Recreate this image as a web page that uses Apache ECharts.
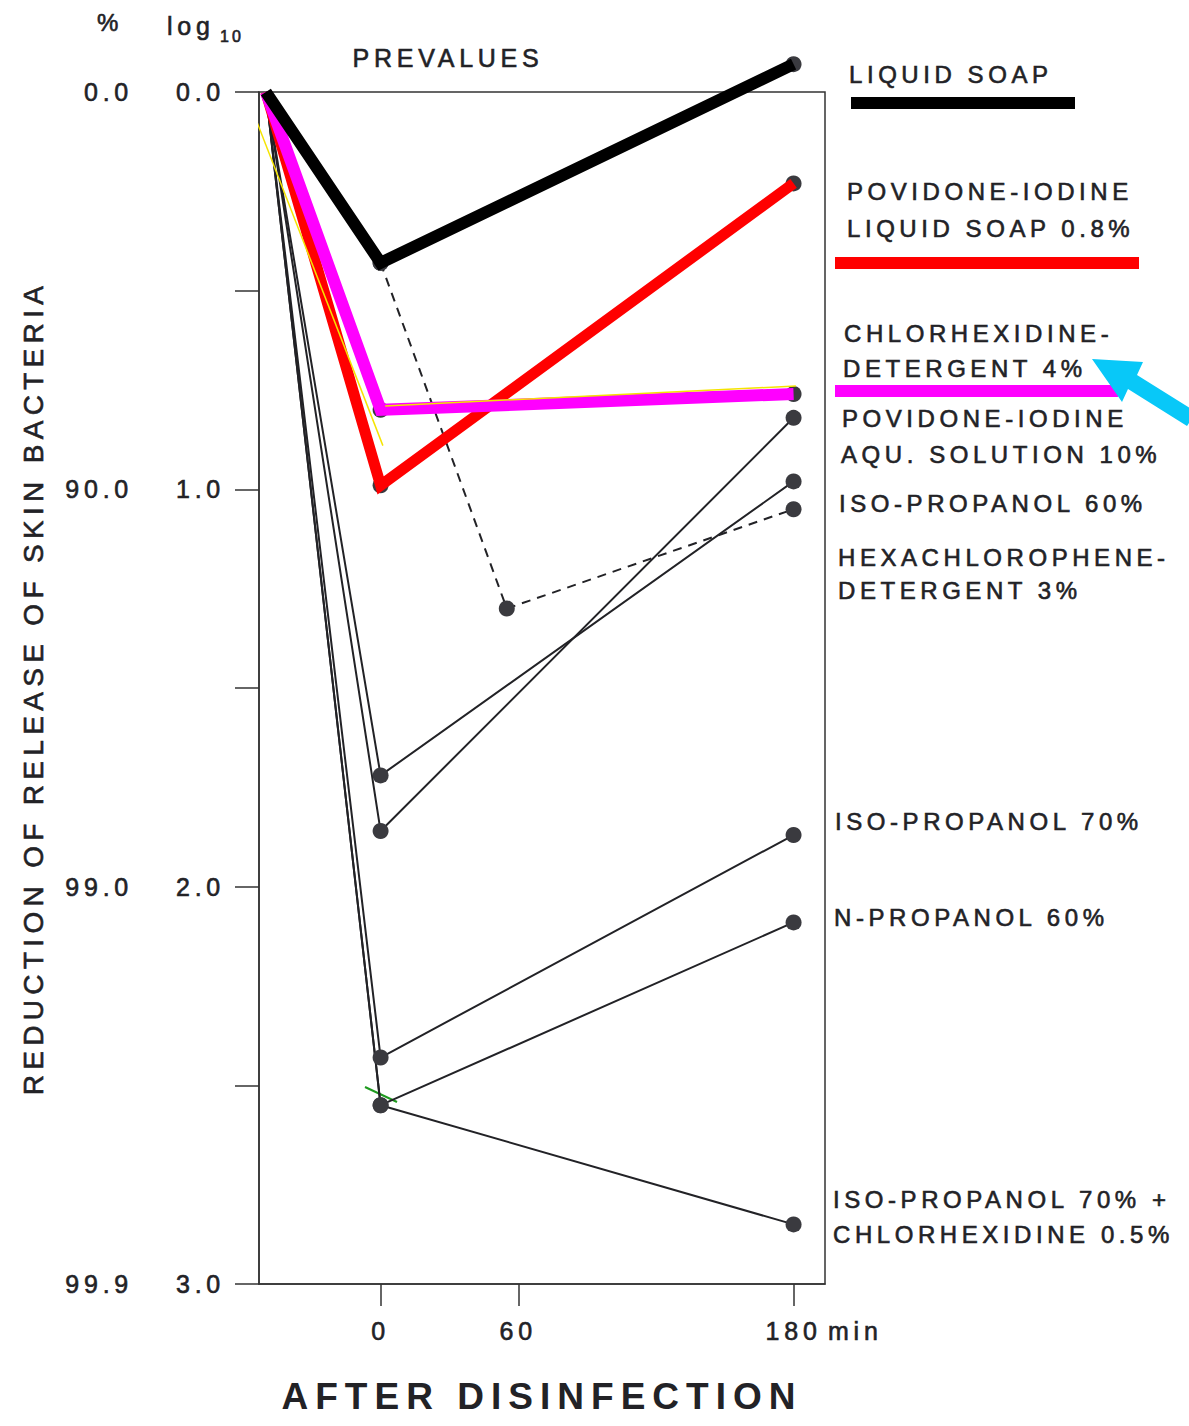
<!DOCTYPE html>
<html>
<head>
<meta charset="utf-8">
<script src="https://cdn.jsdelivr.net/npm/echarts@6/dist/echarts.min.js"></script>
<style>
  html, body { margin: 0; padding: 0; background: #ffffff; }
  #chart { width: 1189px; height: 1426px; }
  /* the original lettering is widely spaced */
  #chart text { letter-spacing: 0.19em; }
</style>
</head>
<body>
<div id="chart"></div>
<script>
// x: minutes after disinfection, the prevalue sits left of 0
const prevalueX = -50;
const times = [prevalueX, 0, 180];
const hexaTimes = [0, 55, 180];

// log10 reduction of release of skin bacteria
const liquidSoap = [0, 0.43, -0.07];
const pviLiquidSoap = [0, 0.99, 0.23];
const chxDetergent = [0, 0.80, 0.76];
const pviAquSolution = [0, 1.86, 0.82];
const isoPropanol60 = [0, 1.72, 0.98];
const hexaDetergent = [0.43, 1.30, 1.05];
const isoPropanol70 = [0, 2.43, 1.87];
const nPropanol60 = [0, 2.55, 2.09];
const isoPropanol70Chx = [0, 2.55, 2.85];

// yellow marker strokes drawn over the scan
const yellowA = [[-59, 0], [1, 0.89]];
const yellowB = [[2, 0.79], [181, 0.74]];

// axis ticks
const xTicks = [0, 60, 180];
const logTicks = [0, 1, 2, 3];
const pctLabels = ['0.0', '90.0', '99.0', '99.9'];

// labels at the right hand side
const seriesLabels = [
  'LIQUID SOAP',
  'POVIDONE-IODINE',
  'LIQUID SOAP 0.8%',
  'CHLORHEXIDINE-',
  'DETERGENT 4%',
  'POVIDONE-IODINE',
  'AQU. SOLUTION 10%',
  'ISO-PROPANOL 60%',
  'HEXACHLOROPHENE-',
  'DETERGENT 3%',
  'ISO-PROPANOL 70%',
  'N-PROPANOL 60%',
  'ISO-PROPANOL 70% +',
  'CHLORHEXIDINE 0.5%'
];
const labelPos = [
  [849, 74], [847, 191], [847, 228], [844, 333], [843, 368], [842, 418], [841, 454],
  [839, 503], [838, 557], [838, 590], [835, 821], [834, 917], [833, 1199], [833, 1234]
];

const FONT = '"Liberation Sans", Arial, sans-serif';
const INK = '#222226';

const chart = echarts.init(document.getElementById('chart'), null, { renderer: 'svg' });

function pairs(xs, ys) {
  return ys.map((y, i) => {
    if (xs[i] === prevalueX) {
      return { value: [xs[i], y], symbol: 'none' };
    }
    return [xs[i], y];
  });
}

function baseLine(name, xs, ys, dashed) {
  return {
    name: name,
    type: 'line',
    data: pairs(xs, ys),
    symbol: 'circle',
    symbolSize: 16,
    clip: false,
    silent: true,
    z: 2,
    itemStyle: { color: '#3a3a3f', borderWidth: 0 },
    lineStyle: { color: INK, width: 2, type: dashed ? [9, 7] : 'solid' }
  };
}

function markerLine(name, xs, ys, color, width, z) {
  return {
    name: name,
    type: 'line',
    data: ys.map((y, i) => [xs[i], y]),
    symbol: 'none',
    clip: false,
    silent: true,
    z: z,
    lineStyle: { color: color, width: width, join: 'miter', cap: 'butt' }
  };
}

const series = [
  baseLine('Liquid soap', times, liquidSoap),
  baseLine('Povidone-iodine liquid soap 0.8%', times, pviLiquidSoap),
  baseLine('Chlorhexidine-detergent 4%', times, chxDetergent),
  baseLine('Povidone-iodine aqu. solution 10%', times, pviAquSolution),
  baseLine('Iso-propanol 60%', times, isoPropanol60),
  baseLine('Hexachlorophene-detergent 3%', hexaTimes, hexaDetergent, true),
  baseLine('Iso-propanol 70%', times, isoPropanol70),
  baseLine('N-propanol 60%', times, nPropanol60),
  baseLine('Iso-propanol 70% + chlorhexidine 0.5%', times, isoPropanol70Chx),
  // coloured marker strokes
  markerLine('Povidone-iodine liquid soap (marker)', times, pviLiquidSoap, '#ff0000', 11, 3),
  markerLine('Chlorhexidine-detergent (marker)', times, chxDetergent, '#ff00ff', 12, 4),
  markerLine('Liquid soap (marker)', times, liquidSoap, '#000000', 12, 5),
  {
    type: 'line', data: yellowA, symbol: 'none', clip: false, silent: true, z: 6,
    lineStyle: { color: '#f5e400', width: 1.5 }
  },
  {
    type: 'line', data: yellowB, symbol: 'none', clip: false, silent: true, z: 6,
    lineStyle: { color: '#f5e400', width: 1.5 }
  }
];

// slightly thickened lettering, like the photocopied original
const textInk = { fill: INK, stroke: INK, lineWidth: 0.6 };

const labelTexts = seriesLabels.map((t, i) => ({
  type: 'text',
  x: labelPos[i][0],
  y: labelPos[i][1],
  silent: true,
  style: Object.assign({ text: t, font: '24px ' + FONT, align: 'left', verticalAlign: 'middle' }, textInk)
}));

const axisLineStyle = { color: '#333333', width: 1.5 };
const axisText = { fontFamily: FONT, color: INK, textBorderColor: INK, textBorderWidth: 0.6 };

const option = {
  animation: false,
  backgroundColor: '#ffffff',
  grid: {
    left: 259,
    top: 92,
    width: 566,
    height: 1192,
    show: true,
    borderColor: '#333333',
    borderWidth: 1.5,
    containLabel: false
  },
  xAxis: {
    type: 'value',
    min: -53,
    max: 193.7,
    splitLine: { show: false },
    axisLine: { show: true, onZero: false, lineStyle: axisLineStyle },
    axisTick: { show: true, customValues: xTicks, length: 22, lineStyle: axisLineStyle },
    axisLabel: Object.assign({ customValues: xTicks, margin: 34, fontSize: 25 }, axisText),
    name: 'AFTER DISINFECTION',
    nameLocation: 'middle',
    nameGap: 94,
    nameTextStyle: { fontSize: 37, fontWeight: 'bold', fontFamily: FONT, color: INK }
  },
  yAxis: [
    {
      type: 'value',
      inverse: true,
      min: 0,
      max: 3,
      interval: 0.5,
      position: 'left',
      splitLine: { show: false },
      axisLine: { show: true, onZero: false, lineStyle: axisLineStyle },
      axisTick: { show: true, length: 24, lineStyle: axisLineStyle },
      axisLabel: Object.assign({
        margin: 34,
        fontSize: 25,
        formatter: v => (logTicks.indexOf(v) >= 0 ? v.toFixed(1) : '')
      }, axisText),
      name: 'REDUCTION OF RELEASE OF SKIN BACTERIA',
      nameLocation: 'middle',
      nameGap: 212,
      nameRotate: 90,
      nameTextStyle: Object.assign({ fontSize: 28 }, axisText)
    },
    {
      type: 'value',
      inverse: true,
      min: 0,
      max: 3,
      interval: 0.5,
      position: 'left',
      offset: 0,
      splitLine: { show: false },
      axisLine: { show: false, onZero: false },
      axisTick: { show: false },
      axisLabel: Object.assign({
        margin: 126,
        fontSize: 25,
        formatter: v => {
          const k = logTicks.indexOf(v);
          return k >= 0 ? pctLabels[k] : '';
        }
      }, axisText)
    }
  ],
  graphic: [
    {
      type: 'text', x: 110, y: 22, silent: true,
      style: Object.assign({ text: '%', font: '24px ' + FONT, align: 'center', verticalAlign: 'middle' }, textInk)
    },
    {
      type: 'text', x: 167, y: 26, silent: true,
      style: Object.assign({ text: 'log', font: '25px ' + FONT, align: 'left', verticalAlign: 'middle' }, textInk)
    },
    {
      type: 'text', x: 220, y: 36, silent: true,
      style: Object.assign({ text: '10', font: '16px ' + FONT, align: 'left', verticalAlign: 'middle' }, textInk)
    },
    {
      type: 'text', x: 448, y: 58, silent: true,
      style: Object.assign({ text: 'PREVALUES', font: '25px ' + FONT, align: 'center', verticalAlign: 'middle' }, textInk)
    },
    {
      type: 'text', x: 828, y: 1331, silent: true,
      style: Object.assign({ text: 'min', font: '25px ' + FONT, align: 'left', verticalAlign: 'middle' }, textInk)
    },
    ...labelTexts,
    // marker bars under the labels
    { type: 'rect', silent: true, shape: { x: 851, y: 97, width: 224, height: 12 }, style: { fill: '#000000' } },
    { type: 'rect', silent: true, shape: { x: 835, y: 257, width: 304, height: 12 }, style: { fill: '#ff0000' } },
    { type: 'rect', silent: true, shape: { x: 835, y: 385, width: 283, height: 12 }, style: { fill: '#ff00ff' } },
    // cyan arrow
    {
      type: 'polygon', silent: true, z: 10,
      shape: {
        points: [[1092, 359], [1143, 362], [1137, 375], [1196, 412], [1187, 426], [1128, 389], [1122, 402]]
      },
      style: { fill: '#08c8f8' }
    },
    // small green tick mark
    {
      type: 'line', silent: true,
      shape: { x1: 365, y1: 1087, x2: 397, y2: 1102 },
      style: { stroke: '#1f9a1f', lineWidth: 2 }
    }
  ],
  series: series
};

chart.setOption(option);
</script>
</body>
</html>
